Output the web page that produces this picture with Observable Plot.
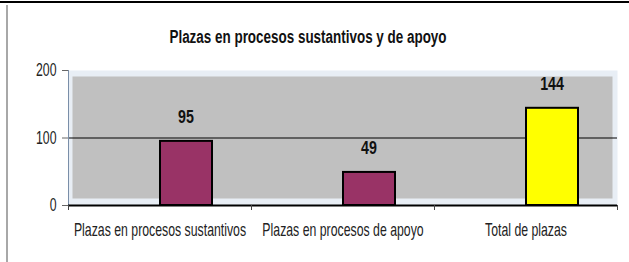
<!DOCTYPE html>
<html><head><meta charset="utf-8">
<script src="https://cdn.jsdelivr.net/npm/d3@7"></script>
<script src="https://cdn.jsdelivr.net/npm/@observablehq/plot@0.6"></script>
<style>
body{margin:0;background:#fff;}
#wrap{position:relative;width:629px;height:262px;overflow:hidden;font-family:"Liberation Sans",Arial,sans-serif;}
#top{position:absolute;left:0;top:1px;width:629px;height:2px;background:#000;}
#left{position:absolute;left:6px;top:5px;width:2px;height:257px;background:#a8a8a8;}
#title{position:absolute;left:0;width:616px;top:29px;text-align:center;font-weight:bold;font-size:16px;line-height:18px;color:#111;transform:scale(0.84,1.1);transform-origin:center center;}
#chart{position:absolute;left:0;top:55px;}
</style></head><body>
<div id="wrap"><div id="top"></div><div id="left"></div><div id="title">Plazas en procesos sustantivos y de apoyo</div><div id="chart"></div></div>
<script>
const categories = ["Plazas en procesos sustantivos", "Plazas en procesos de apoyo", "Total de plazas"];
const values = [95, 49, 144];
const yTicks = [0, 100, 200];

const data = categories.map((c, i) => ({category: c, value: values[i]}));
const half = (629 - 68 - 12) / 6;

const chart = Plot.plot({
  width: 629, height: 207,
  marginTop: 15, marginBottom: 57, marginLeft: 68, marginRight: 12,
  style: {fontFamily: '"Liberation Sans",Arial,sans-serif', fontSize: "15px", background: "transparent", color: "#222"},
  x: {domain: categories, padding: 0, label: null},
  y: {domain: [0, 200], label: null},
  marks: [
    Plot.frame({fill: "#e8eef5"}),
    Plot.frame({fill: "#c0c0c0", insetTop: 6, insetBottom: 7, insetLeft: 4, insetRight: 5}),
    Plot.ruleY([100], {stroke: "#000", strokeWidth: 1}),
    Plot.barY(data, {x: "category", y: "value", fill: d => d.category === "Total de plazas" ? "#ffff00" : "#993366", stroke: "#000", strokeWidth: 2, insetLeft: 92, insetRight: 39}),
    Plot.ruleX([categories[0]], {dx: -half, stroke: "#7a8ea8", strokeWidth: 1}),
    Plot.ruleY([0], {stroke: "#000", strokeWidth: 2}),
    Plot.ruleX(categories, {dx: -half, y1: 0, y2: 0, insetBottom: -5, stroke: "#444"}),
    Plot.ruleX([categories[2]], {dx: half, y1: 0, y2: 0, insetBottom: -5, stroke: "#444"}),
    Plot.axisY({ticks: yTicks, tickSize: 6, tickPadding: 6, label: null, stroke: "#666"}),
    Plot.axisX({tickSize: 0, tickPadding: 18, label: null}),
    Plot.text(data, {x: "category", y: "value", text: d => String(d.value), dx: 26, dy: -24, fontWeight: "bold", fontSize: 15, fill: "#111"})
  ]
});
// narrow, tall lettering like the reference
const isNum = v => v !== null && /^-?[\d.]+(e-?\d+)?$/i.test(v.trim());
chart.querySelectorAll("text").forEach(t => {
  const bold = t.closest('[font-weight="bold"]') !== null;
  const s = bold ? "scale(0.95,1.25)" : "scale(0.82,1.2)";
  let tr = t.getAttribute("transform") || "";
  const x = t.getAttribute("x"), y = t.getAttribute("y");
  let tx = 0, ty = 0;
  if (isNum(x)) { tx = +x; t.removeAttribute("x"); }
  if (isNum(y)) { ty = +y; t.removeAttribute("y"); }
  if (tx || ty) tr += ` translate(${tx},${ty})`;
  t.setAttribute("transform", (tr + " " + s).trim());
});
document.getElementById("chart").appendChild(chart);
</script>
</body></html>
